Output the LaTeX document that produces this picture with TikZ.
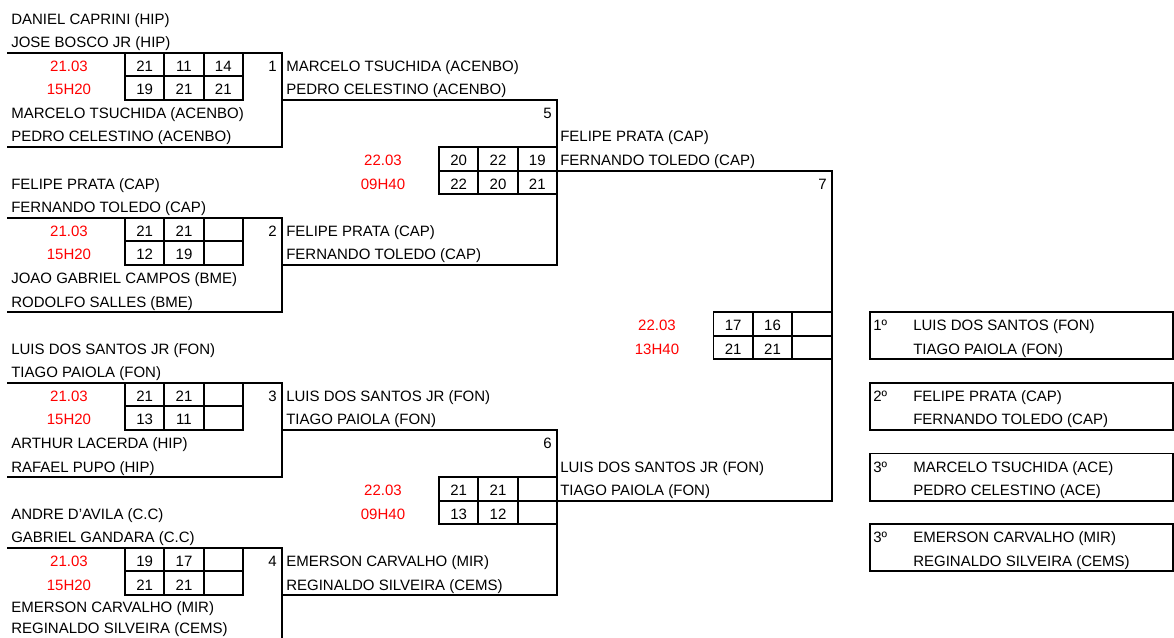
\documentclass[tikz,border=0pt]{standalone}
\usepackage{fontspec}
\setmainfont{Liberation Sans}
\definecolor{datered}{RGB}{255,0,0}
\newcommand{\fsz}{\fontsize{11.25}{13}\selectfont}
% score grid: #1 left x, #2 upper score row
\newcommand{\sgrid}[2]{%
  \draw[line] (#1,{rb(#2-1)}) rectangle ({#1+118},{rb(#2+1)});
  \draw[line] (#1,{rb(#2)}) -- ({#1+118},{rb(#2)});
  \draw[line] ({#1+39.3},{rb(#2-1)}) -- ({#1+39.3},{rb(#2+1)});
  \draw[line] ({#1+78.7},{rb(#2-1)}) -- ({#1+78.7},{rb(#2+1)});
}
% scores: #1 name, #2 left x, #3 upper row, #4-#9 values
\newcommand{\scores}[9]{%
  \node[sc] (#1a) at ({#2+19.65},{bl(#3)}) {#4};
  \node[sc] (#1b) at ({#2+59},{bl(#3)}) {#5};
  \node[sc] (#1c) at ({#2+98.3},{bl(#3)}) {#6};
  \node[sc] (#1d) at ({#2+19.65},{bl(#3+1)}) {#7};
  \node[sc] (#1e) at ({#2+59},{bl(#3+1)}) {#8};
  \node[sc] (#1f) at ({#2+98.3},{bl(#3+1)}) {#9};
}
\begin{document}
\begin{tikzpicture}[x=0.75pt,y=-0.75pt,
  declare function={rb(\k)=5.5+23.58*\k; bl(\k)=0.5+23.58*\k;},
  line/.style={line width=1.45pt, line join=miter},
  nm/.style={anchor=base west, inner sep=0pt, font=\fsz},
  sc/.style={anchor=base, inner sep=0pt, font=\fsz},
  dt/.style={anchor=base, inner sep=0pt, font=\fsz, text=datered},
  num/.style={anchor=base east, inner sep=0pt, font=\fsz}]
\useasboundingbox (0,0) rectangle (1174,638);

% ---------- round 1 brackets ----------
\foreach \t in {3,10,17,24}{
  \draw[line] (7,{rb(\t-1)}) -- (282,{rb(\t-1)}) -- (282,{rb(\t+3)}) -- (7,{rb(\t+3)});
  \sgrid{125}{\t}
  \node[dt] (d\t) at (69,{bl(\t)}) {21.03};
  \node[dt] (h\t) at (69,{bl(\t+1)}) {15H20};
}
% ---------- round 2 brackets ----------
\draw[line] (282,{rb(4)}) -- (557,{rb(4)}) -- (557,{rb(11)}) -- (282,{rb(11)});
\draw[line] (282,{rb(18)}) -- (557,{rb(18)}) -- (557,{rb(25)}) -- (282,{rb(25)});
\sgrid{439}{7}
\sgrid{439}{21}
\node[dt] (d5) at (383,{bl(7)}) {22.03};
\node[dt] (h5) at (383,{bl(8)}) {09H40};
\node[dt] (d6) at (383,{bl(21)}) {22.03};
\node[dt] (h6) at (383,{bl(22)}) {09H40};
% ---------- final ----------
\draw[line] (557,{rb(7)}) -- (832,{rb(7)}) -- (832,{rb(21)}) -- (557,{rb(21)});
\sgrid{713.5}{14}
\node[dt] (d7) at (657,{bl(14)}) {22.03};
\node[dt] (h7) at (657,{bl(15)}) {13H40};

% ---------- scores ----------
\scores{m1}{125}{3}{21}{11}{14}{19}{21}{21}
\scores{m2}{125}{10}{21}{21}{}{12}{19}{}
\scores{m3}{125}{17}{21}{21}{}{13}{11}{}
\scores{m4}{125}{24}{19}{17}{}{21}{21}{}
\scores{m5}{439}{7}{20}{22}{19}{22}{20}{21}
\scores{m6}{439}{21}{21}{21}{}{13}{12}{}
\scores{m7}{713.5}{14}{17}{16}{}{21}{21}{}

% ---------- match numbers ----------
\node[num] (n1) at (277,{bl(3)}) {1};
\node[num] (n2) at (277,{bl(10)}) {2};
\node[num] (n3) at (277,{bl(17)}) {3};
\node[num] (n4) at (277,{bl(24)}) {4};
\node[num] (n5) at (552,{bl(5)}) {5};
\node[num] (n6) at (552,{bl(19)}) {6};
\node[num] (n7) at (827,{bl(8)}) {7};

% ---------- entrants ----------
\node[nm] (p1) at (11,{bl(1)}) {DANIEL CAPRINI (HIP)};
\node[nm] (p2) at (11,{bl(2)}) {JOSE BOSCO JR (HIP)};
\node[nm] (p3) at (11,{bl(5)}) {MARCELO TSUCHIDA (ACENBO)};
\node[nm] (p4) at (11,{bl(6)}) {PEDRO CELESTINO (ACENBO)};
\node[nm] (p5) at (11,{bl(8)}) {FELIPE PRATA (CAP)};
\node[nm] (p6) at (11,{bl(9)}) {FERNANDO TOLEDO (CAP)};
\node[nm] (p7) at (11,{bl(12)}) {JOAO GABRIEL CAMPOS (BME)};
\node[nm] (p8) at (11,{bl(13)}) {RODOLFO SALLES (BME)};
\node[nm] (p9) at (11,{bl(15)}) {LUIS DOS SANTOS JR (FON)};
\node[nm] (p10) at (11,{bl(16)}) {TIAGO PAIOLA (FON)};
\node[nm] (p11) at (11,{bl(19)}) {ARTHUR LACERDA (HIP)};
\node[nm] (p12) at (11,{bl(20)}) {RAFAEL PUPO (HIP)};
\node[nm] (p13) at (11,{bl(22)}) {ANDRE D'AVILA (C.C)};
\node[nm] (p14) at (11,{bl(23)}) {GABRIEL GANDARA (C.C)};
\node[nm] (p15) at (11,612) {EMERSON CARVALHO (MIR)};
\node[nm] (p16) at (11,633) {REGINALDO SILVEIRA (CEMS)};

% ---------- round 1 winners ----------
\node[nm] (w1) at (286,{bl(3)}) {MARCELO TSUCHIDA (ACENBO)};
\node[nm] (w2) at (286,{bl(4)}) {PEDRO CELESTINO (ACENBO)};
\node[nm] (w3) at (286,{bl(10)}) {FELIPE PRATA (CAP)};
\node[nm] (w4) at (286,{bl(11)}) {FERNANDO TOLEDO (CAP)};
\node[nm] (w5) at (286,{bl(17)}) {LUIS DOS SANTOS JR (FON)};
\node[nm] (w6) at (286,{bl(18)}) {TIAGO PAIOLA (FON)};
\node[nm] (w7) at (286,{bl(24)}) {EMERSON CARVALHO (MIR)};
\node[nm] (w8) at (286,{bl(25)}) {REGINALDO SILVEIRA (CEMS)};

% ---------- round 2 winners ----------
\node[nm] (v1) at (560,{bl(6)}) {FELIPE PRATA (CAP)};
\node[nm] (v2) at (560,{bl(7)}) {FERNANDO TOLEDO (CAP)};
\node[nm] (v3) at (560,{bl(20)}) {LUIS DOS SANTOS JR (FON)};
\node[nm] (v4) at (560,{bl(21)}) {TIAGO PAIOLA (FON)};

% ---------- podium ----------
\draw[line] (870,{rb(13)}) rectangle (1173,{rb(15)});
\draw[line] (870,{rb(16)}) rectangle (1173,{rb(18)});
\draw[line] (870,{rb(19)}) rectangle (1173,{rb(21)});
\draw[line] (870,{rb(22)}) rectangle (1173,{rb(24)});
\node[nm] (r1) at (873,{bl(14)}) {1º};
\node[nm] (r1a) at (913,{bl(14)}) {LUIS DOS SANTOS (FON)};
\node[nm] (r1b) at (913,{bl(15)}) {TIAGO PAIOLA (FON)};
\node[nm] (r2) at (873,{bl(17)}) {2º};
\node[nm] (r2a) at (913,{bl(17)}) {FELIPE PRATA (CAP)};
\node[nm] (r2b) at (913,{bl(18)}) {FERNANDO TOLEDO (CAP)};
\node[nm] (r3) at (873,{bl(20)}) {3º};
\node[nm] (r3a) at (913,{bl(20)}) {MARCELO TSUCHIDA (ACE)};
\node[nm] (r3b) at (913,{bl(21)}) {PEDRO CELESTINO (ACE)};
\node[nm] (r4) at (873,{bl(23)}) {3º};
\node[nm] (r4a) at (913,{bl(23)}) {EMERSON CARVALHO (MIR)};
\node[nm] (r4b) at (913,{bl(24)}) {REGINALDO SILVEIRA (CEMS)};
\end{tikzpicture}
\end{document}
